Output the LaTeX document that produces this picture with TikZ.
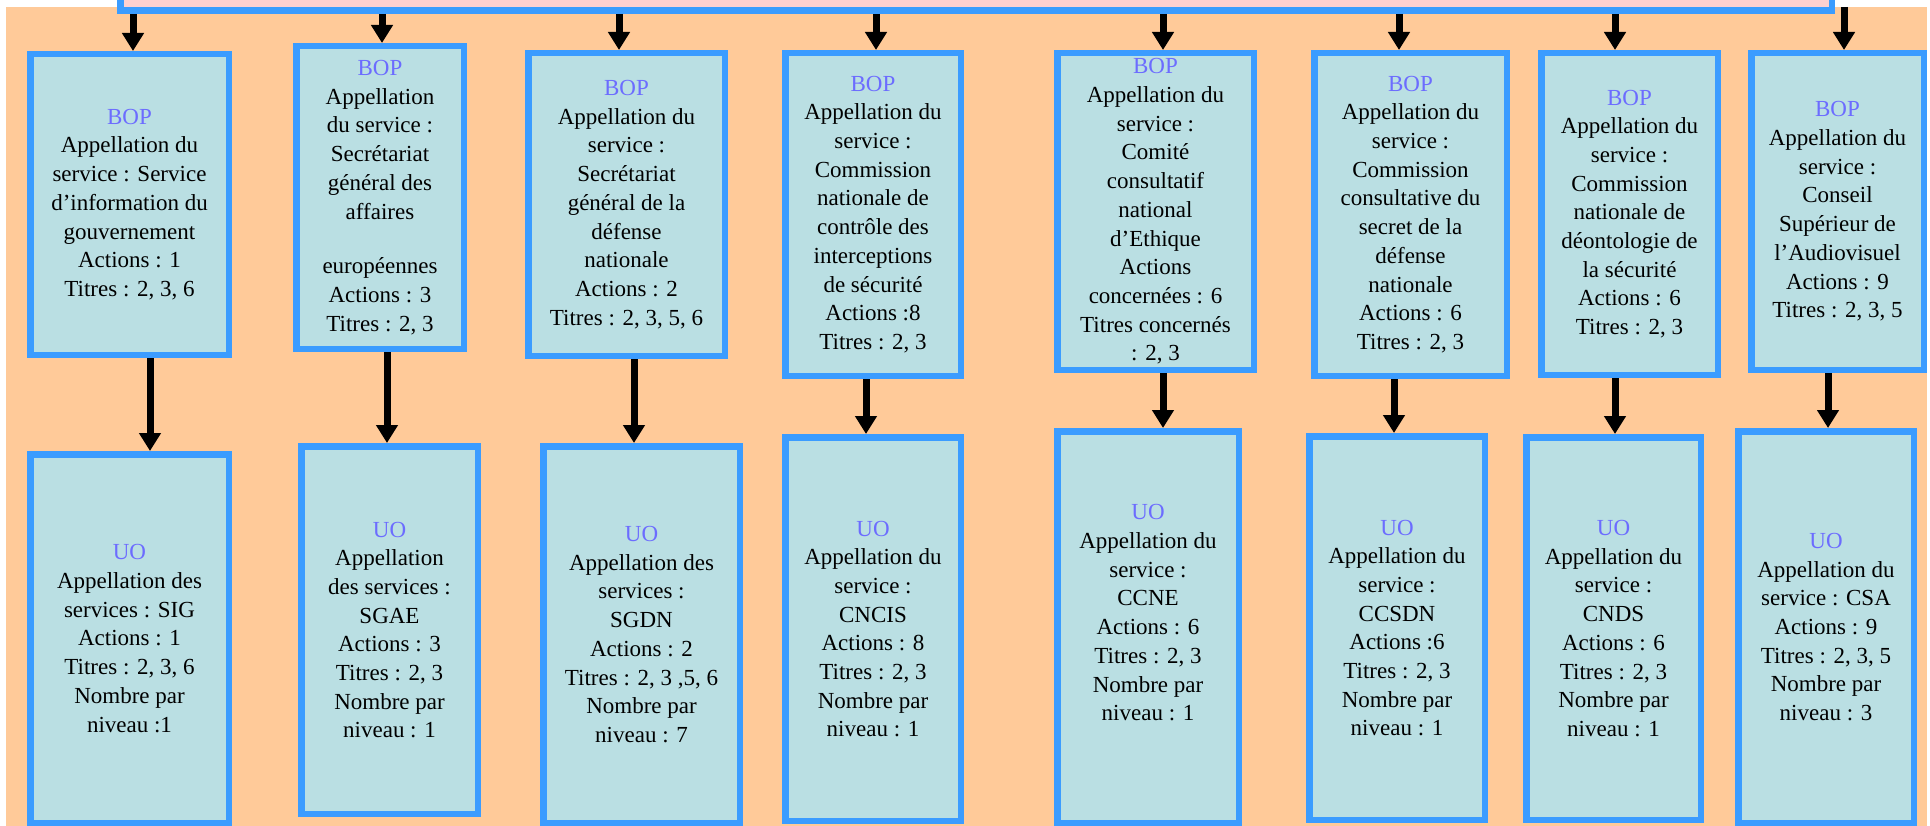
\documentclass[tikz,border=0pt]{standalone}
\usepackage{fontspec}
\setmainfont{Liberation Serif}
\usetikzlibrary{arrows.meta}
\definecolor{fondorange}{RGB}{255,202,153}
\definecolor{roseclair}{RGB}{255,208,208}
\definecolor{bleubord}{RGB}{59,156,255}
\definecolor{bleufond}{RGB}{186,223,227}
\definecolor{bleutitre}{RGB}{108,108,255}
\newcommand{\titrebop}{{\color{bleutitre}BOP}}
\newcommand{\titreuo}{{\color{bleutitre}UO}}

\begin{document}
\begin{tikzpicture}[x=1pt,y=-1pt,
    boite/.style={draw=bleubord, fill=bleufond, line width=6.5pt, align=center, inner sep=0pt,
      font=\fontsize{23}{28.7}\selectfont},
    fleche/.style={line width=7pt, -{Triangle[width=21pt,length=18pt]}}]
    \useasboundingbox (0,0) rectangle (1930,826);
    \fill[fondorange] (6,7) rectangle (1927,826);

    \node[draw=bleubord, fill=roseclair, line width=6.5pt, anchor=south,
      minimum width=1711.5pt, minimum height=40pt] (tete) at (976,14) {};
    \coordinate (depart8) at (1844,7);

    % BOP
    \node[boite, minimum width=198.5pt, minimum height=300.5pt] (bop1) at (129.5,204.5)
      {\titrebop\\Appellation du\\service : Service\\d’information du\\gouvernement\\Actions : 1\\Titres : 2, 3, 6};
    \node[boite, minimum width=167.5pt, minimum height=302.5pt] (bop2) at (380,197.5)
      {\titrebop\\Appellation\\du service :\\Secrétariat\\général des\\affaires\\[26pt]européennes\\Actions : 3\\Titres : 2, 3};
    \node[boite, minimum width=196.5pt, minimum height=302.5pt] (bop3) at (626.5,204.5)
      {\titrebop\\Appellation du\\service :\\Secrétariat\\général de la\\défense\\nationale\\Actions : 2\\Titres : 2, 3, 5, 6};
    \node[boite, minimum width=175.5pt, minimum height=322.5pt] (bop4) at (873,214.5)
      {\titrebop\\Appellation du\\service :\\Commission\\nationale de\\contrôle des\\interceptions\\de sécurité\\Actions :8\\Titres : 2, 3};
    \node[boite, minimum width=196.5pt, minimum height=316.5pt] (bop5) at (1155.5,211.5)
      {\titrebop\\Appellation du\\service :\\Comité\\consultatif\\national\\d’Ethique\\Actions\\concernées : 6\\Titres concernés\\: 2, 3};
    \node[boite, minimum width=192.5pt, minimum height=322.5pt] (bop6) at (1410.5,214.5)
      {\titrebop\\Appellation du\\service :\\Commission\\consultative du\\secret de la\\défense\\nationale\\Actions : 6\\Titres : 2, 3};
    \node[boite, minimum width=176.5pt, minimum height=321.5pt] (bop7) at (1629.5,214)
      {\titrebop\\Appellation du\\service :\\Commission\\nationale de\\déontologie de\\la sécurité\\Actions : 6\\Titres : 2, 3};
    \node[boite, minimum width=172.5pt, minimum height=316.5pt] (bop8) at (1837.5,211.5)
      {\titrebop\\Appellation du\\service :\\Conseil\\Supérieur de\\l’Audiovisuel\\Actions : 9\\Titres : 2, 3, 5};

    % UO
    \node[boite, minimum width=198.5pt, minimum height=368.5pt] (uo1) at (129.5,638.5)
      {\titreuo\\Appellation des\\services : SIG\\Actions : 1\\Titres : 2, 3, 6\\Nombre par\\niveau :1};
    \node[boite, minimum width=176.5pt, minimum height=367.5pt] (uo2) at (389.5,630)
      {\titreuo\\Appellation\\des services :\\SGAE\\Actions : 3\\Titres : 2, 3\\Nombre par\\niveau : 1};
    \node[boite, minimum width=196.5pt, minimum height=376.5pt] (uo3) at (641.5,634.5)
      {\titreuo\\Appellation des\\services :\\SGDN\\Actions : 2\\Titres : 2, 3 ,5, 6\\Nombre par\\niveau : 7};
    \node[boite, minimum width=175.5pt, minimum height=383.5pt] (uo4) at (873,629)
      {\titreuo\\Appellation du\\service :\\CNCIS\\Actions : 8\\Titres : 2, 3\\Nombre par\\niveau : 1};
    \node[boite, minimum width=181.5pt, minimum height=391.5pt] (uo5) at (1148,627)
      {\titreuo\\Appellation du\\service :\\CCNE\\Actions : 6\\Titres : 2, 3\\Nombre par\\niveau : 1\\\mbox{}};
    \node[boite, minimum width=175.5pt, minimum height=383.5pt] (uo6) at (1397,628)
      {\titreuo\\Appellation du\\service :\\CCSDN\\Actions :6\\Titres : 2, 3\\Nombre par\\niveau : 1};
    \node[boite, minimum width=174.5pt, minimum height=382.5pt] (uo7) at (1613.5,628.5)
      {\titreuo\\Appellation du\\service :\\CNDS\\Actions : 6\\Titres : 2, 3\\Nombre par\\niveau : 1};
    \node[boite, minimum width=175.5pt, minimum height=391.5pt] (uo8) at (1826,627)
      {\titreuo\\Appellation du\\service : CSA\\Actions : 9\\Titres : 2, 3, 5\\Nombre par\\niveau : 3};

    % fleches
    \foreach \i/\xa in {1/133,2/382,3/619,4/876,5/1163,6/1399,7/1615}
      \draw[fleche] (tete.south -| \xa,0) -- (bop\i.north -| \xa,0);
    \draw[fleche] (depart8) -- (bop8.north -| depart8);
    \foreach \i/\xb in {1/150,2/387,3/634,4/866,5/1163,6/1394,7/1615,8/1828}
      \draw[fleche] (bop\i.south -| \xb,0) -- (uo\i.north -| \xb,0);
\end{tikzpicture}
\end{document}
